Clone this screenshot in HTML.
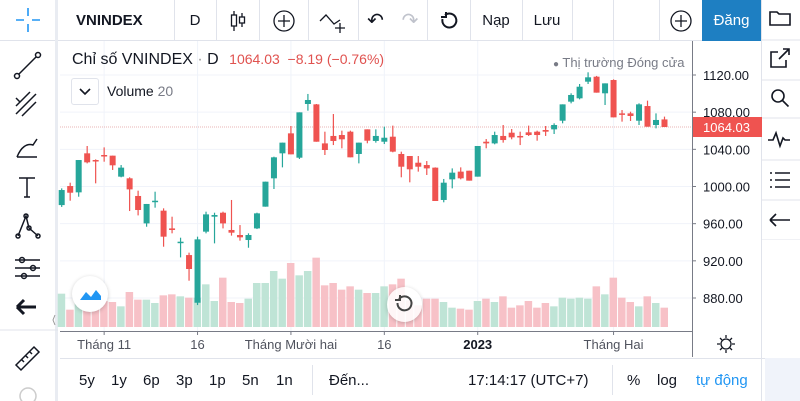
<!DOCTYPE html>
<html><head><meta charset="utf-8">
<style>
*{box-sizing:border-box;margin:0;padding:0}
body{width:800px;height:401px;overflow:hidden;background:#fff;font-family:"Liberation Sans","Noto Sans CJK SC",sans-serif;color:#131722;position:relative}
.abs{position:absolute}
.tb{position:absolute;top:0;height:41px;display:flex;align-items:center;justify-content:center;font-size:15px}
.bb{position:absolute;top:372px;font-size:15px;color:#131722}
</style></head><body>
<div class="abs" style="left:0;top:0;width:762px;height:41px;border-bottom:1px solid #e0e3eb"></div>
<div class="abs" style="left:0;top:0;width:58px;height:401px;border-right:3px solid #e9ecf2"></div>
<div class="abs" style="left:761px;top:0;width:39px;height:401px;border-left:1px solid #e0e3eb"></div>
<div class="abs" style="left:765px;top:358px;width:35px;height:43px;background:#f0f3fa"></div>

<!-- top toolbar items -->
<div class="tb" style="left:62px;width:112px;font-weight:bold;justify-content:flex-start;padding-left:14px">VNINDEX</div>
<div class="tb" style="left:174px;width:42px">D</div>
<div class="tb" style="left:216px;width:43px"><svg width="20" height="22"><g stroke="#131722" fill="none" stroke-width="1.3"><line x1="6" y1="1" x2="6" y2="21"/><rect x="3.5" y="5" width="5" height="11" fill="#fff"/><line x1="14" y1="3" x2="14" y2="17"/><rect x="11.5" y="7" width="5" height="6" fill="#fff"/></g></svg></div>
<div class="tb" style="left:259px;width:49px"><svg width="24" height="24"><circle cx="12" cy="12" r="10" stroke="#131722" fill="none" stroke-width="1.3"/><path d="M12 6v12M6 12h12" stroke="#131722" stroke-width="1.3"/></svg></div>
<div class="tb" style="left:308px;width:50px"><svg width="30" height="24"><path d="M2 12l6-6 8 9 6-4" stroke="#131722" fill="none" stroke-width="1.3"/><path d="M22 14v10M17 19h10" stroke="#131722" stroke-width="1.3"/></svg></div>
<div class="tb" style="left:358px;width:35px;font-size:20px">↶</div>
<div class="tb" style="left:393px;width:34px;font-size:20px;color:#c0c3cc">↷</div>
<div class="tb" style="left:427px;width:43px"><svg width="20" height="20"><path d="M6 4a7 7 0 1 1-2.5 4" stroke="#131722" fill="none" stroke-width="2"/><path d="M7 1v5H2" stroke="#131722" fill="none" stroke-width="2"/></svg></div>
<div class="tb" style="left:470px;width:52px">Nạp</div>
<div class="tb" style="left:522px;width:50px">Lưu</div>
<div class="abs" style="left:572px;top:0;width:1px;height:41px;background:#e0e3eb"></div>
<div class="abs" style="left:613px;top:0;width:1px;height:41px;background:#e0e3eb"></div>
<div class="abs" style="left:659px;top:0;width:1px;height:41px;background:#e0e3eb"></div>
<div class="abs" style="left:174px;top:0;width:1px;height:41px;background:#e0e3eb"></div>
<div class="abs" style="left:216px;top:0;width:1px;height:41px;background:#e0e3eb"></div>
<div class="abs" style="left:259px;top:0;width:1px;height:41px;background:#e0e3eb"></div>
<div class="abs" style="left:308px;top:0;width:1px;height:41px;background:#e0e3eb"></div>
<div class="abs" style="left:358px;top:0;width:1px;height:41px;background:#e0e3eb"></div>
<div class="abs" style="left:427px;top:0;width:1px;height:41px;background:#e0e3eb"></div>
<div class="abs" style="left:470px;top:0;width:1px;height:41px;background:#e0e3eb"></div>
<div class="abs" style="left:522px;top:0;width:1px;height:41px;background:#e0e3eb"></div>
<div class="tb" style="left:660px;width:42px"><svg width="24" height="24"><circle cx="12" cy="12" r="10" stroke="#131722" fill="none" stroke-width="1.3"/><path d="M12 6v12M6 12h12" stroke="#131722" stroke-width="1.3"/></svg></div>
<div class="tb" style="left:702px;width:59px;background:#1e7fc2;color:#fff">Đăng</div>

<!-- right toolbar icons -->
<svg class="abs" style="left:761px;top:0" width="39" height="240">
<g stroke="#131722" fill="none" stroke-width="1.6">
<path d="M9 12h7l2 2h11v11H9z"/>
<path d="M17 52h-7v15h15v-7M18 59l10-10M22 49h6v6"/>
<circle cx="17" cy="96" r="6"/><path d="M21.5 100.5l6 6"/>
<path d="M7 140h5l3-7 4 13 3-8 2 2h5"/>
<path d="M9 173h2M9 180h2M9 187h2M14 173h15M14 180h15M14 187h15"/>
<path d="M9 220h20M9 220l6-6M9 220l6 6"/>
</g>
<line x1="0" y1="40" x2="39" y2="40" stroke="#e0e3eb"/><line x1="0" y1="80" x2="39" y2="80" stroke="#e0e3eb"/><line x1="0" y1="118" x2="39" y2="118" stroke="#e0e3eb"/><line x1="0" y1="160" x2="39" y2="160" stroke="#e0e3eb"/><line x1="0" y1="200" x2="39" y2="200" stroke="#e0e3eb"/><line x1="0" y1="240" x2="39" y2="240" stroke="#e0e3eb"/>
</svg>

<!-- left toolbar icons -->
<svg class="abs" style="left:0;top:0" width="58" height="401">
<g stroke="#2196f3" stroke-width="1.6"><path d="M28 8v8M28 24v8M16 20h8M32 20h8"/></g>
<g stroke="#131722" fill="none" stroke-width="1.5">
<circle cx="17" cy="76" r="2.5"/><circle cx="38" cy="55" r="2.5"/><path d="M19 74l17-17"/>
<path d="M16 114l20-20M16 106l14-14M22 116l14-14M16 98l4 4"/>
<path d="M17 157c4-10 10-14 16-12l4-6M17 157h20"/>
<path d="M19 178h16M27 178v19M24 197h6"/>
<circle cx="18" cy="236" r="2"/><circle cx="26" cy="216" r="2"/><circle cx="38" cy="236" r="2"/><circle cx="29" cy="228" r="2"/><path d="M18 236l8-20 3 12 9 8"/>
<path d="M15 260h25M15 268h25M15 276h25"/><circle cx="22" cy="260" r="2.5"/><circle cx="33" cy="268" r="2.5"/><circle cx="24" cy="276" r="2.5"/>
<path d="M16 365l18-18 5 5-18 18zM22 360l2 2M26 356l2 2M30 352l2 2"/>
<circle cx="28" cy="396" r="8" stroke="#ccc"/>
</g>
<path d="M17 307h19M17 307l7-7M17 307l7 7" stroke="#131722" stroke-width="3" fill="none"/>
<line x1="0" y1="330" x2="58" y2="330" stroke="#e0e3eb"/>
<path d="M55 315l-2 5 2 5" stroke="#999" fill="none"/>
</svg>

<svg id="chart" class="abs" style="left:0;top:0" width="800" height="401"></svg>

<!-- legend -->
<div class="abs" style="left:72px;top:51px;font-size:16px;white-space:nowrap">Chỉ số VNINDEX <span style="color:#999">·</span> D <span style="color:#e0524f;font-size:14px;margin-left:6px">1064.03 &nbsp;−8.19 (−0.76%)</span></div>
<div class="abs" style="left:71px;top:78px;width:28px;height:27px;border:1px solid #e0e3eb;border-radius:3px;background:#fff"><svg width="26" height="25"><path d="M8 10l5 5 5-5" stroke="#131722" stroke-width="1.6" fill="none"/></svg></div>
<div class="abs" style="left:107px;top:83px;font-size:14px">Volume <span style="color:#787b86">20</span></div>
<div class="abs" style="left:553px;top:55px;font-size:13px;color:#787b86;white-space:nowrap"><span style="font-size:10px">●</span> Thị trường Đóng cửa</div>

<!-- logo and reset -->
<div class="abs" style="left:72px;top:276px;width:36px;height:36px;border-radius:50%;background:#fff;box-shadow:0 1px 4px rgba(0,0,0,.2)"><svg width="36" height="36"><path d="M8 24l6-8 5 5 5-7 5 6v4H8z" fill="#2196f3"/><path d="M8 20l6-8 5 5 5-7 5 6" stroke="#fff" stroke-width="2" fill="none"/></svg></div>
<div class="abs" style="left:387px;top:287px;width:35px;height:35px;border-radius:50%;background:rgba(255,255,255,.85);box-shadow:0 1px 4px rgba(0,0,0,.2)"><svg width="35" height="35"><path d="M12 12a7 7 0 1 1-1.5 4" stroke="#444" fill="none" stroke-width="2"/><path d="M13 8v5H8" stroke="#444" fill="none" stroke-width="2"/></svg></div>

<!-- bottom bar -->
<div class="abs" style="left:60px;top:358px;width:705px;height:43px;border-top:1px solid #e0e3eb"></div>
<div class="bb" style="left:79px">5y</div>
<div class="bb" style="left:111px">1y</div>
<div class="bb" style="left:143px">6p</div>
<div class="bb" style="left:176px">3p</div>
<div class="bb" style="left:209px">1p</div>
<div class="bb" style="left:242px">5n</div>
<div class="bb" style="left:276px">1n</div>
<div class="abs" style="left:312px;top:365px;width:1px;height:30px;background:#e0e3eb"></div>
<div class="bb" style="left:329px">Đến...</div>
<div class="bb" style="left:468px">17:14:17 (UTC+7)</div>
<div class="abs" style="left:612px;top:365px;width:1px;height:30px;background:#e0e3eb"></div>
<div class="bb" style="left:627px">%</div>
<div class="bb" style="left:657px">log</div>
<div class="bb" style="left:696px;color:#2196f3">tự động</div>

<script>
const candleOpen=[980,1000.5,993.7,1035.7,1028.5,1033.9,1033.2,1010.6,1008.8,989.8,960.3,983.7,974,954.9,939.2,926.2,874.9,951.4,967.5,971.8,953.2,947.8,942.4,954.9,978.3,1008.8,1035.7,1057.2,1031,1088.8,1088.4,1046.4,1054.4,1055.4,1059,1035,1061.5,1049,1048.2,1053.6,1035,1032.8,1025.6,1023.1,1020.3,985.5,1007.7,1016,1017,1010.6,1048.2,1046.4,1054.4,1057.9,1054.4,1058.3,1059,1060.8,1061.5,1070.8,1091.3,1094.9,1112.8,1118.2,1100.3,1114.6,1078.7,1078.7,1070.8,1086.6,1066.2,1072.2];
const candleHigh=[998,1004.1,1028.5,1043.6,1029.2,1042.1,1033.2,1023.1,1009.9,995.5,981.2,994.4,976.5,967.5,944.9,928.8,946,972.9,971.8,972.9,985.5,958.5,949.6,971.8,1005.2,1032.1,1047.2,1065.1,1079.8,1099.6,1088.8,1059,1078,1060.1,1060.1,1047.2,1061.5,1061.5,1064.4,1065.5,1037.5,1032.8,1032.8,1027.4,1020.6,1008.1,1019.5,1020.6,1017,1043.6,1051.1,1059,1066.2,1061.9,1059,1065.5,1060.1,1065.1,1068,1088.4,1100.3,1110.3,1122.9,1119,1111,1115.3,1082.3,1080.5,1089.5,1092.4,1078.7,1075.2];
const candleLow=[978,984.7,989,1024.9,1003.4,1026.7,1017.8,1009.9,973.6,968.9,956.7,977.2,935.2,949.6,923.7,898.6,872.4,949.6,938.8,954.9,947.1,941.7,934.1,954.2,978.3,997.3,1020.6,1034.6,1029.6,1081.6,1048.2,1033.9,1044.6,1041.1,1031.4,1024.9,1046.5,1047.2,1045.7,1036.8,1009.9,1004.5,1016,1012.4,984.4,983,998,1007.7,1006.3,1010.6,1041.1,1045.4,1047.2,1050.8,1044.6,1054.4,1049.3,1054.4,1056.5,1068,1089.5,1093.8,1110.3,1101,1087.7,1074.4,1069.8,1070.5,1066.2,1064.4,1062.6,1064.03];
const candleClose=[996.2,993.3,1028.5,1026,1027.4,1032.5,1022.8,1020.3,996.9,974.7,981.2,984.7,946,953.2,940.6,911.2,943.1,970,969.3,960.3,950.3,945.3,947.8,971.1,1005.2,1031.4,1047.2,1034.6,1079.8,1093.1,1048.2,1039.3,1049,1050.8,1031.4,1047.2,1049.3,1054.4,1052.5,1037.5,1021.3,1018.5,1021.3,1019.5,984.4,1004.1,1014.9,1008.8,1006.3,1043.6,1046.4,1055.4,1050,1052.9,1053.6,1055.4,1055.4,1059,1066.2,1088.4,1098.5,1107.4,1117.5,1101,1111,1074.4,1078,1075.9,1088.4,1064.4,1071.6,1064.03];
const volumes=[300,156,240,180,225,234,225,186,315,246,246,216,285,294,276,264,264,384,234,444,225,216,255,396,396,504,435,576,465,504,624,375,396,336,366,336,306,306,366,384,435,240,195,255,255,225,174,165,156,234,255,225,276,174,195,234,174,216,186,264,255,264,255,366,294,444,264,225,186,276,216,174];
const priceTicks=[880,920,960,1000,1040,1080,1120];
const timeLabels=["Tháng 11","16","Tháng Mười hai","16","2023","Tháng Hai"];
const timeLabelIndex=[5,16,27,38,49,65];
const lastPrice=1064.03;

const svg=document.getElementById('chart');
const NS='http://www.w3.org/2000/svg';
const plotL=60,plotR=692,plotT=41,plotB=331;
function yScale(p){return 75+(1120-p)*(223/240);}
function xScale(i){return 61.7+i*8.49;}
function vScale(v){return v/9;}
function mk(tag,attrs,parent){const e=document.createElementNS(NS,tag);for(const k in attrs)e.setAttribute(k,attrs[k]);(parent||svg).appendChild(e);return e;}

// grid
priceTicks.forEach(p=>{const y=yScale(p);const l=mk('line',{x1:plotL,x2:plotR,y1:y,y2:y,stroke:'#f0f3fa'});

});
timeLabelIndex.forEach(i=>{const x=xScale(i);const l=mk('line',{x1:x,x2:x,y1:plotT,y2:plotB,stroke:'#f0f3fa'});

});

// volume
volumes.forEach((v,i)=>{const up=candleClose[i]>=candleOpen[i];const h=vScale(v);
const r=mk('rect',{x:xScale(i)-4,y:plotB-4-h,width:7.5,height:h,fill:up?'#bfe4d6':'#f7c1c7'});

});

// last price line
const ly=yScale(lastPrice);
const pl=mk('line',{x1:plotL,x2:plotR,y1:ly,y2:ly,stroke:'#e8b4b4','stroke-width':1,'stroke-dasharray':'1 1'});



// candles
candleOpen.forEach((o,i)=>{const c=candleClose[i];const up=c>=o;const col=up?'#26a69a':'#ef5350';const x=xScale(i);
const g=mk('g',{});


mk('line',{x1:x,x2:x,y1:yScale(candleHigh[i]),y2:yScale(candleLow[i]),stroke:col,'stroke-width':1.2},g);
const t=yScale(Math.max(o,c)),b=yScale(Math.min(o,c));
mk('rect',{x:x-3,y:t,width:6,height:Math.max(1.5,b-t),fill:col},g);});

// axes
mk('line',{x1:plotR+0.5,x2:plotR+0.5,y1:plotT,y2:357,stroke:'#787b86'});
mk('line',{x1:plotL,x2:plotR,y1:plotB+0.5,y2:plotB+0.5,stroke:'#787b86'});
priceTicks.forEach(p=>{const y=yScale(p);
mk('line',{x1:plotR,x2:plotR+4,y1:y,y2:y,stroke:'#787b86'});
const t=mk('text',{x:703,y:y+5,'font-size':13,fill:'#131722','font-family':'Liberation Sans, sans-serif'});
t.textContent=p.toFixed(2);

});
timeLabels.forEach((s,k)=>{const x=xScale(timeLabelIndex[k]);
mk('line',{x1:x,x2:x,y1:plotB,y2:plotB+4,stroke:'#787b86'});
const t=mk('text',{x:x,y:349,'font-size':13,fill:s==='2023'?'#131722':'#50535e','font-weight':s==='2023'?'bold':'normal','text-anchor':'middle','font-family':'Liberation Sans, sans-serif'});
t.textContent=s;

});
// last price tag
const tag=mk('rect',{x:plotR+1,y:ly-10,width:69,height:20,fill:'#ef5350'});


const tt=mk('text',{x:703,y:ly+5,'font-size':13,fill:'#fff','font-family':'Liberation Sans, sans-serif'});
tt.textContent=lastPrice.toFixed(2);
// settings icon
const gs=mk('g',{stroke:'#131722',fill:'none','stroke-width':1.3});


mk('circle',{cx:726,cy:344,r:5},gs);
mk('path',{d:'M726 335v3M726 350v3M717 344h3M732 344h3M720 338l2 2M730 348l2 2M732 338l-2 2M720 350l2-2'},gs);
</script>
</body></html>
